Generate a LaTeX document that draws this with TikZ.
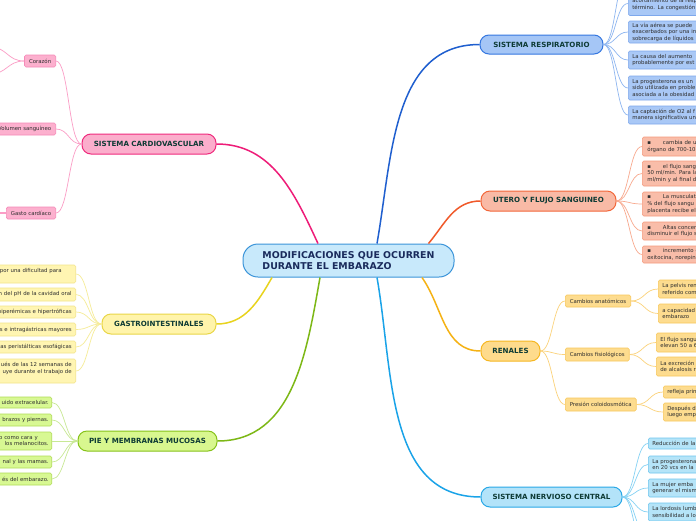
\documentclass[tikz,border=0pt]{standalone}
\usepackage{fontspec}
\setmainfont{DejaVu Sans}
\usetikzlibrary{calc}

\definecolor{cfill}{HTML}{C8E9FB}\definecolor{cborder}{HTML}{3B94D9}\definecolor{ctext}{HTML}{1A2B5C}
\definecolor{maintext}{HTML}{0E3B35}\definecolor{subtext}{HTML}{2E2E2E}
\definecolor{rfill}{HTML}{A5C6F6}\definecolor{rbord}{HTML}{3577E0}\definecolor{rline}{HTML}{1F5FCF}
\definecolor{rsfill}{HTML}{A9C8F6}\definecolor{rsbord}{HTML}{7EA8EC}\definecolor{rsline}{HTML}{8EB6F0}
\definecolor{ufill}{HTML}{F9BAA6}\definecolor{ubord}{HTML}{F2673A}\definecolor{uline}{HTML}{F0592A}
\definecolor{usfill}{HTML}{F9BDA9}\definecolor{usbord}{HTML}{F59A7C}\definecolor{usline}{HTML}{F8A98E}
\definecolor{kfill}{HTML}{FEDB8C}\definecolor{kbord}{HTML}{F6B722}\definecolor{kline}{HTML}{F5B214}
\definecolor{ksfill}{HTML}{FDDC8F}\definecolor{ksbord}{HTML}{F8C75A}\definecolor{ksline}{HTML}{FBD27A}
\definecolor{nfill}{HTML}{B3E3F9}\definecolor{nbord}{HTML}{2AA8E6}\definecolor{nline}{HTML}{1AA3E8}
\definecolor{nsfill}{HTML}{B5E4F8}\definecolor{nsbord}{HTML}{6CC5EE}\definecolor{nsline}{HTML}{86D2F4}
\definecolor{hfill}{HTML}{FBAECC}\definecolor{hbord}{HTML}{EF2A7D}\definecolor{hline}{HTML}{EE1C78}
\definecolor{hsfill}{HTML}{FCB0CE}\definecolor{hsbord}{HTML}{F689B8}\definecolor{hsline}{HTML}{FB9DC6}
\definecolor{gfill}{HTML}{FFF4AB}\definecolor{gbord}{HTML}{E9D647}\definecolor{gline}{HTML}{E8D31E}
\definecolor{gsfill}{HTML}{FFF5B2}\definecolor{gsbord}{HTML}{F3E58A}\definecolor{gsline}{HTML}{F6EC97}
\definecolor{pfill}{HTML}{D8F78F}\definecolor{pbord}{HTML}{86C21A}\definecolor{pline}{HTML}{7DB816}
\definecolor{psfill}{HTML}{D8F893}\definecolor{psbord}{HTML}{B0DC56}\definecolor{psline}{HTML}{C8E895}

\tikzset{
  bez/.style={to path={.. controls ($(\tikztostart)!0.5!(\tikztotarget |- \tikztostart)$) and ($(\tikztotarget)!0.5!(\tikztostart |- \tikztotarget)$) .. (\tikztotarget)}},
  central/.style={draw=cborder, fill=cfill, line width=1pt, rounded corners=15pt,
    minimum width=211pt, minimum height=33pt, align=left, text=ctext, inner sep=0pt,
    font=\fontsize{9.4}{10.5}\selectfont\bfseries},
  mainbox/.style={line width=1pt, rounded corners=9pt, minimum height=20pt, inner sep=0pt,
    text=maintext, font=\fontsize{7.1}{8.5}\selectfont\bfseries},
  mainline/.style={line width=1.5pt},
  subline/.style={line width=0.7pt},
  sub/.style={line width=0.6pt, rounded corners=1.5pt, inner ysep=0pt, inner xsep=4pt,
    text=subtext, font=\fontsize{5.4}{6.6}\selectfont},
  subR/.style={sub, anchor=west, text width=72pt, align=left},
  subL/.style={sub, anchor=east, text width=92pt, align=right},
  subN/.style={sub, inner xsep=4.5pt},
}

\begin{document}
\begin{tikzpicture}[x=1pt,y=-1pt]
\useasboundingbox (0,0) rectangle (696,520);
\fill[white] (0,0) rectangle (696,520);

% ---- central
\node[central] (c) at (348.5,260.5) {MODIFICACIONES QUE OCURREN\\DURANTE EL EMBARAZO};

% ---- main branches
\node[mainbox, draw=rbord, fill=rfill, minimum width=123pt, minimum height=19pt] (resp) at (541.5,44.5) {SISTEMA RESPIRATORIO};
\node[mainbox, draw=ubord, fill=ufill, minimum width=135pt] (ut) at (548.5,201) {UTERO Y FLUJO SANGUINEO};
\node[mainbox, draw=kbord, fill=kfill, minimum width=59pt] (ren) at (510.5,351) {RENALES};
\node[mainbox, draw=nbord, fill=nfill, minimum width=141pt] (nerv) at (551.5,497) {SISTEMA NERVIOSO CENTRAL};
\node[mainbox, draw=hbord, fill=hfill, minimum width=134pt] (car) at (149,144) {SISTEMA CARDIOVASCULAR};
\node[mainbox, draw=gbord, fill=gfill, minimum width=114pt] (gas) at (159,324) {GASTROINTESTINALES};
\node[mainbox, draw=pbord, fill=pfill, minimum width=139pt] (pie) at (147.5,441) {PIE Y MEMBRANAS MUCOSAS};

\draw[mainline, rline] ([xshift=28.5pt]c.north) to[out=80,in=180] (resp.west);
\draw[mainline, uline] ([xshift=80pt]c.north) to[out=50,in=180] (ut.west);
\draw[mainline, kline] ([xshift=73.5pt]c.south) to[out=-55,in=180] (ren.west);
\draw[mainline, nline] ([xshift=28.5pt]c.south) to[out=-80,in=180] (nerv.west);
\draw[mainline, hline] ([xshift=-30.5pt]c.north) to[out=115,in=0] (car.east);
\draw[mainline, gline] ([xshift=-76.5pt]c.south) to[out=-120,in=0] (gas.east);
\draw[mainline, pline] ([xshift=-28.5pt]c.south) to[out=-100,in=0] (pie.east);

% ---- respiratorio
\node[subR, draw=rsbord, fill=rsfill, minimum height=24pt] (r1) at (628,3.5) {\mbox{}\\acortamiento de la resp\\término. La congestión};
\node[subR, draw=rsbord, fill=rsfill, minimum height=22pt] (r2) at (628,32) {La vía aérea se puede\\exacerbados por una in\\sobrecarga de líquidos};
\node[subR, draw=rsbord, fill=rsfill, minimum height=18pt] (r3) at (628,60) {La causa del aumento\\probablemente por est};
\node[subR, draw=rsbord, fill=rsfill, minimum height=24pt] (r4) at (628,88) {La progesterona es un\\sido utilizada en proble\\asociada a la obesidad};
\node[subR, draw=rsbord, fill=rsfill, minimum height=18pt] (r5) at (628,115) {La captación de O2 al f\\manera significativa un};
\coordinate (r0) at (628,-25);
\foreach \t in {r0,r1,r2,r3,r4,r5} \draw[subline, rsline] (resp.east) to[bez] (\t.west);

% ---- utero
\node[subR, draw=usbord, fill=usfill, minimum height=19pt, inner xsep=5pt] (u1) at (642,146.5) {▪\hspace{12pt}cambia de u\\órgano de 700-10};
\node[subR, draw=usbord, fill=usfill, minimum height=25pt, inner xsep=5pt] (u2) at (642,173.5) {▪\hspace{12pt}el flujo sang\\50 ml/min. Para la\\ml/min y al final d};
\node[subR, draw=usbord, fill=usfill, minimum height=24pt, inner xsep=5pt] (u3) at (642,204) {▪\hspace{12pt}La musculat\\\% del flujo sangu\\placenta recibe el};
\node[subR, draw=usbord, fill=usfill, minimum height=18pt, inner xsep=5pt] (u4) at (642,231) {▪\hspace{12pt}Altas concen\\disminuir el flujo s};
\node[subR, draw=usbord, fill=usfill, minimum height=17pt, inner xsep=5pt] (u5) at (642,254.5) {▪\hspace{12pt}incremento d\\oxitocina, norepin};
\foreach \t in {u1,u2,u3,u4,u5} \draw[subline, usline] (ut.east) to[bez] (\t.west);

% ---- renales
\node[subN, anchor=west, draw=ksbord, fill=ksfill, minimum height=12pt] (ca) at (565,301) {Cambios anatómicos};
\node[subN, anchor=west, draw=ksbord, fill=ksfill, minimum height=13pt] (cf) at (565,354.5) {Cambios fisiológicos};
\node[subN, anchor=west, draw=ksbord, fill=ksfill, minimum height=13pt] (cp) at (565,404.5) {Presión coloidosmótica};
\node[subR, draw=ksbord, fill=ksfill, minimum height=18pt] (ra1) at (658,289) {La pelvis ren\\referido com};
\node[subR, draw=ksbord, fill=ksfill, minimum height=19pt] (ra2) at (658,313.5) {a capacidad\\embarazo};
\node[subR, draw=ksbord, fill=ksfill, minimum height=19pt] (rf1) at (656,342.5) {El flujo sangu\\elevan 50 a 6};
\node[subR, draw=ksbord, fill=ksfill, minimum height=19pt] (rf2) at (656,366.5) {La excreción\\de alcalosis r};
\node[subR, draw=ksbord, fill=ksfill, minimum height=12pt] (rp1) at (663,392) {refleja prin};
\node[subR, draw=ksbord, fill=ksfill, minimum height=18pt] (rp2) at (663,412) {Después d\\luego emp};
\foreach \t in {ca,cf,cp} \draw[subline, ksline] (ren.east) to[bez] (\t.west);
\foreach \t in {ra1,ra2} \draw[subline, ksline] (ca.east) to[bez] (\t.west);
\foreach \t in {rf1,rf2} \draw[subline, ksline] (cf.east) to[bez] (\t.west);
\foreach \t in {rp1,rp2} \draw[subline, ksline] (cp.east) to[bez] (\t.west);

% ---- nervioso
\node[subR, draw=nsbord, fill=nsfill, minimum height=11pt] (n1) at (648,443.5) {Reducción de la};
\node[subR, draw=nsbord, fill=nsfill, minimum height=17pt] (n2) at (648,464.5) {La progesterona\\en 20 vcs en la};
\node[subR, draw=nsbord, fill=nsfill, minimum height=18pt] (n3) at (648,488) {La mujer emba\\generar el mism};
\node[subR, draw=nsbord, fill=nsfill, minimum height=18pt] (n4) at (648,512) {La lordosis lumb\\sensibilidad a lo};
\coordinate (n5) at (648,536);
\coordinate (n6) at (648,560);
\foreach \t in {n1,n2,n3,n4,n5,n6} \draw[subline, nsline] (nerv.east) to[bez] (\t.west);

% ---- cardiovascular
\node[subN, anchor=east, draw=hsbord, fill=hsfill, minimum height=12pt] (cor) at (56,61) {Corazón};
\node[subN, anchor=east, draw=hsbord, fill=hsfill, minimum height=12pt] (vol) at (56,129) {Volumen sanguíneo};
\node[subN, anchor=east, draw=hsbord, fill=hsfill, minimum height=12pt] (gc) at (56,213) {Gasto cardíaco};
\foreach \t in {cor,vol,gc} \draw[subline, hsline] (car.west) to[bez] (\t.east);
\coordinate (cor1) at (-10,47);
\coordinate (cor2) at (-10,74);
\coordinate (gc1) at (-10,213);
\foreach \t in {cor1,cor2} \draw[subline, hsline] (cor.west) to[bez] (\t);
\draw[mainline, hsline] (gc.west) -- (gc1);

% ---- gastrointestinales
\node[subL, draw=gsbord, fill=gsfill, minimum height=18pt] (ga1) at (76,274) {o por una dificultad para\rule{10pt}{0pt}\\\mbox{}};
\node[subL, draw=gsbord, fill=gsfill, minimum height=13pt] (ga2) at (76,294.5) {n del pH de la cavidad oral};
\node[subL, draw=gsbord, fill=gsfill, minimum height=12pt] (ga3) at (76,312) {hiperémicas e hipertróficas};
\node[subL, draw=gsbord, fill=gsfill, minimum height=13pt] (ga4) at (76,329.5) {s e intragástricas mayores};
\node[subL, draw=gsbord, fill=gsfill, minimum height=12pt] (ga5) at (76,347) {as peristálticas esofágicas};
\node[subL, draw=gsbord, fill=gsfill, minimum height=24pt] (ga6) at (76,371) {ués de las 12 semanas de\\uye durante el trabajo de\\\mbox{}};
\foreach \t in {ga1,ga2,ga3,ga4,ga5,ga6} \draw[subline, gsline] (gas.west) to[bez] (\t.east);

% ---- pie y membranas
\node[subL, draw=psbord, fill=psfill, minimum height=11pt, inner xsep=3pt] (p1) at (52,402.5) {uido extracelular.};
\node[subL, draw=psbord, fill=psfill, minimum height=12pt, inner xsep=3pt] (p2) at (52,420) {brazos y piernas.};
\node[subL, draw=psbord, fill=psfill, minimum height=18pt, inner xsep=3pt] (p3) at (52,441) {so como cara y\rule{11pt}{0pt}\\los melanocitos.};
\node[subL, draw=psbord, fill=psfill, minimum height=12pt, inner xsep=3pt] (p4) at (52,462) {nal y las mamas.};
\node[subL, draw=psbord, fill=psfill, minimum height=12pt, inner xsep=3pt] (p5) at (52,479) {és del embarazo.};
\foreach \t in {p1,p2,p3,p4,p5} \draw[subline, psline] (pie.west) to[bez] (\t.east);
\end{tikzpicture}
\end{document}
